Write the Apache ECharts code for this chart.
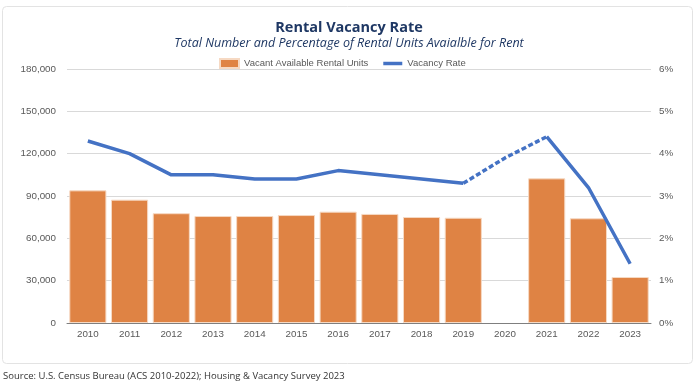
<!DOCTYPE html>
<html>
<head>
<meta charset="utf-8">
<script src="https://cdn.jsdelivr.net/npm/echarts@6/dist/echarts.min.js"></script>
<style>
html,body{margin:0;padding:0;background:#fff;}
#chart{width:698px;height:391px;}
</style>
</head>
<body>
<div id="chart"></div>
<script>
var years = ['2010','2011','2012','2013','2014','2015','2016','2017','2018','2019','2020','2021','2022','2023'];
var vacantUnits = [94000, 87400, 77800, 75800, 75800, 76500, 78900, 77300, 75100, 74600, null, 102500, 74200, 32600];
var vacancyRate = [4.3, 4.0, 3.5, 3.5, 3.4, 3.4, 3.6, 3.5, 3.4, 3.3, 3.9, 4.4, 3.2, 1.4];
var leftTicks = [0, 30000, 60000, 90000, 120000, 150000, 180000];
var rightTicks = [0, 1, 2, 3, 4, 5, 6];
var dashedYears = ['2019','2020','2021'];

var solidRate = vacancyRate.map(function(v, i){ return years[i] === '2020' ? null : v; });
var dashedRate = vacancyRate.map(function(v, i){ return dashedYears.indexOf(years[i]) >= 0 ? v : null; });

var chart = echarts.init(document.getElementById('chart'), null, {renderer:'canvas'});
var labelFont = {color:'#595959', fontSize:9.8, fontFamily:'Liberation Sans, Arial, sans-serif'};
chart.setOption({
  animation:false,
  backgroundColor:'#fff',
  title:{
    text:'Rental Vacancy Rate',
    subtext:'Total Number and Percentage of Rental Units Avaialble for Rent',
    left:'center', top:15, itemGap:2,
    textStyle:{color:'#1F3864', fontSize:14.5, fontWeight:'bold', fontFamily:'Open Sans, sans-serif'},
    subtextStyle:{color:'#1F3864', fontSize:12.5, fontStyle:'italic', fontFamily:'Open Sans, sans-serif'}
  },
  legend:{
    left:214, top:53, itemWidth:19, itemHeight:9, itemGap:15, itemTextGap:4,
    textStyle:{color:'#595959', fontSize:9.5, fontFamily:'Liberation Sans, Arial, sans-serif'},
    data:[
      {name:'Vacant Available Rental Units', icon:'rect'},
      {name:'Vacancy Rate', icon:'path://M0 0H19V3.5H0Z'}
    ]
  },
  grid:{left:67, right:47, top:69, bottom:68, containLabel:false},
  xAxis:{
    type:'category', data:years,
    axisLine:{lineStyle:{color:'#7f7f7f', width:1}},
    axisTick:{show:false},
    axisLabel:Object.assign({margin:6}, labelFont)
  },
  yAxis:[{
    type:'value', min:leftTicks[0], max:leftTicks[leftTicks.length-1], interval:30000,
    axisLine:{show:false}, axisTick:{show:false},
    splitLine:{lineStyle:{color:'#d9d9d9'}},
    axisLabel:Object.assign({margin:11, formatter:function(v){return v.toLocaleString('en-US');}}, labelFont)
  },{
    type:'value', min:rightTicks[0], max:rightTicks[rightTicks.length-1], interval:1,
    axisLine:{show:false}, axisTick:{show:false}, splitLine:{show:false},
    axisLabel:Object.assign({margin:8, formatter:'{value}%'}, labelFont)
  }],
  series:[{
    name:'Vacant Available Rental Units', type:'bar', data:vacantUnits,
    barCategoryGap:'11%',
    itemStyle:{color:'#DF8344', borderColor:'#f6d9c3', borderWidth:1}
  },{
    name:'Vacancy Rate', type:'line', yAxisIndex:1, data:solidRate,
    symbol:'none', connectNulls:false,
    lineStyle:{color:'#4472C4', width:3.5}, itemStyle:{color:'#4472C4'}
  },{
    name:'Vacancy Rate (est.)', type:'line', yAxisIndex:1, data:dashedRate,
    symbol:'none', connectNulls:false,
    lineStyle:{color:'#4472C4', width:3.5, type:[5,2.5]}, itemStyle:{color:'#4472C4'}
  }],
  graphic:[{
    type:'rect', shape:{x:2.5, y:6.5, width:690, height:357, r:4},
    style:{fill:'none', stroke:'#e3e3e3', lineWidth:1}, z:-10, silent:true
  },{
    type:'text', left:3, top:371,
    style:{text:'Source: U.S. Census Bureau (ACS 2010-2022); Housing & Vacancy Survey 2023', fill:'#333', fontSize:9.5, fontFamily:'Open Sans, sans-serif'}
  }]
});
</script>
</body>
</html>
